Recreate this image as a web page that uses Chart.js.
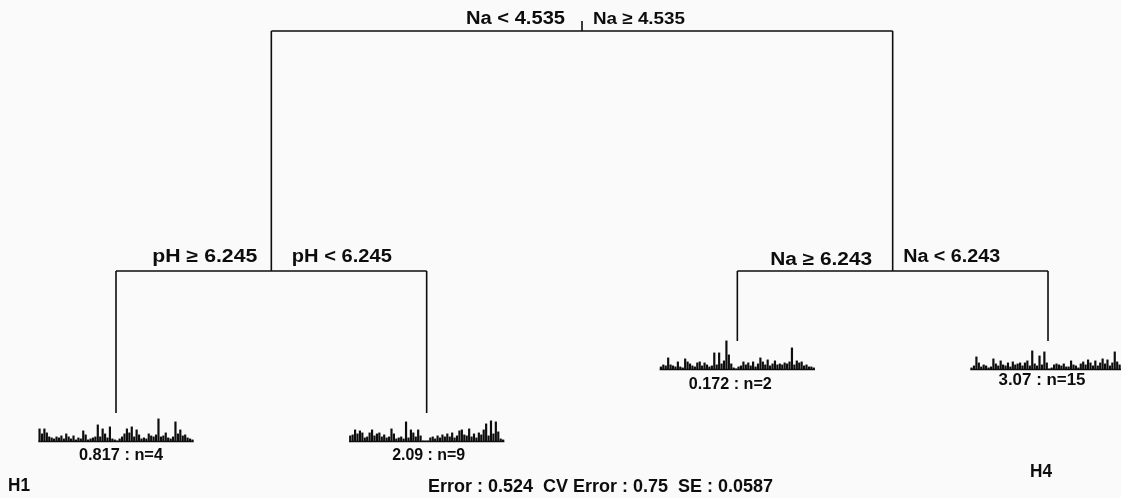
<!DOCTYPE html>
<html>
<head>
<meta charset="utf-8">
<script src="https://cdn.jsdelivr.net/npm/chart.js@4.4.1/dist/chart.umd.min.js"></script>
<style>
  html, body { margin: 0; padding: 0; background: #fafafa; }
  #wrap { position: relative; width: 1121px; height: 498px; }
</style>
</head>
<body>
<div id="wrap"><canvas id="tree" width="1121" height="498"></canvas></div>
<script>
// Splits: root, left child, right child
const splitVars = ['Na', 'pH', 'Na'];
const splitValues = [4.535, 6.245, 6.243];
const leftOps = ['<', '\u2265', '\u2265'];
const rightOps = ['\u2265', '<', '<'];
const splitPos = [2.5, 1.5, 3.5];
const splitHeight = [1.0, 0.4533, 0.4533];

// Leaves
const leafPos = [1, 2, 3, 4];
const leafHeight = [0.1298, 0.1298, 0.2938, 0.2938];
const leafParent = [1, 1, 2, 2];
const leafMeans = [0.817, 2.09, 0.172, 3.07];
const leafN = [4, 9, 2, 15];
const leafTags = ['H1', '', '', 'H4'];

// Error : CV Error : SE
const errorStats = [0.524, 0.75, 0.0587];

// Leaf bar plots (species abundances)
const leafBars1 = [13, 8, 13, 9, 5, 4, 3, 5, 4, 6, 3, 8, 5, 3, 6, 2, 4, 3, 11, 7, 2, 3, 4, 5, 17, 5, 13, 8, 4, 15, 3, 2,
                   1, 3, 5, 8, 13, 9, 15, 5, 12, 7, 3, 4, 3, 8, 6, 5, 7, 23, 5, 6, 9, 4, 3, 5, 20, 8, 12, 6, 7, 4, 3, 2];
const leafBars2 = [6, 7, 12, 8, 11, 9, 4, 5, 9, 12, 6, 8, 9, 5, 7, 4, 5, 13, 8, 3, 4, 5, 3, 20, 4, 12, 9, 5, 12, 6, 1, 1,
                   1, 4, 5, 3, 6, 4, 7, 5, 8, 5, 9, 4, 6, 11, 12, 7, 6, 13, 5, 8, 4, 9, 7, 12, 18, 6, 21, 8, 20, 10, 3, 2];
const leafBars3 = [3, 5, 4, 12, 5, 4, 3, 8, 3, 2, 11, 8, 6, 4, 3, 7, 8, 4, 7, 5, 3, 4, 17, 5, 17, 6, 9, 29, 15, 6, 2, 1,
                   3, 4, 8, 5, 7, 4, 8, 3, 6, 12, 8, 5, 10, 4, 6, 9, 5, 6, 5, 7, 6, 8, 22, 5, 9, 7, 8, 4, 5, 3, 3, 2];
const leafBars4 = [2, 4, 13, 7, 3, 5, 4, 2, 3, 11, 6, 4, 9, 5, 4, 7, 3, 8, 5, 6, 7, 4, 7, 9, 4, 19, 6, 4, 14, 5, 18, 7,
                   1, 2, 5, 6, 5, 4, 6, 3, 3, 9, 5, 4, 2, 6, 8, 5, 10, 7, 4, 9, 4, 7, 11, 6, 10, 4, 7, 18, 8, 5, 3, 2];
const leafBars = [leafBars1, leafBars2, leafBars3, leafBars4];

// ---- layout / style ----
const unitPx = 439;            // pixels per height unit
const stubTop = 1.0228;        // little tick above the root
const plotDrop = 0.065;        // gap between leaf node and its bar plot baseline
const plotWidth = 0.5;         // bar plot width in leaf units
const ink = '#0d0d0d';
const fontFam = '"Liberation Sans", Arial, sans-serif';

function seg(x1, y1, x2, y2) {
    return {
        type: 'line',
        data: [{ x: x1, y: y1 }, { x: x2, y: y2 }],
        showLine: true,
        borderColor: ink,
        borderWidth: 1.6,
        pointRadius: 0,
        fill: false
    };
}

const datasets = [];
// root
datasets.push(seg(splitPos[0], splitHeight[0], splitPos[0], stubTop));
datasets.push(seg(splitPos[1], splitHeight[0], splitPos[2], splitHeight[0]));
for (let i = 1; i < splitPos.length; i++) {
    datasets.push(seg(splitPos[i], splitHeight[0], splitPos[i], splitHeight[i]));
}
// leaves
leafPos.forEach((x, k) => {
    const p = leafParent[k];
    datasets.push(seg(x, splitHeight[p], x, leafHeight[k]));
});
// horizontal bars joining siblings
[1, 2].forEach(p => {
    const kids = leafPos.filter((_, k) => leafParent[k] === p);
    datasets.push(seg(kids[0], splitHeight[p], kids[kids.length - 1], splitHeight[p]));
});
// leaf bar plots
const barData = [];
leafBars.forEach((vals, k) => {
    const base = leafHeight[k] - plotDrop;
    const step = plotWidth / vals.length;
    vals.forEach((v, i) => {
        const x = leafPos[k] - plotWidth / 2 + (i + 0.5) * step;
        barData.push({ x: x, y: [base, base + v / unitPx] });
    });
    const bl = seg(leafPos[k] - plotWidth / 2, base, leafPos[k] + plotWidth / 2, base);
    bl.borderWidth = 1.6;
    datasets.push(bl);
});
datasets.push({
    type: 'bar',
    data: barData,
    backgroundColor: ink,
    borderWidth: 0,
    grouped: false,
    barPercentage: 0.9,
    categoryPercentage: 1
});

// label placement (px offsets from the node)
const splitLabelStyle = [
    { l: [-17, -12, 99, 18], r: [11, -12, 92, 17] },
    { l: [-14, -13.5, 105, 18], r: [20.5, -14, 100, 18] },
    { l: [-20.5, -11, 102, 18], r: [10.5, -14, 97, 18] }
];
const leafLabelStyle = [[5, 13.5, 84], [2, 13.5, 73], [-7, 15, 83], [-6, 11, 87]];
const tagStyle = [[8, 486, 22], null, null, [1030, 472, 22]];

function drawText(ctx, text, x, y, align, width, size) {
    ctx.save();
    ctx.font = 'bold ' + size + 'px ' + fontFam;
    ctx.textBaseline = 'middle';
    ctx.textAlign = 'left';
    const w = ctx.measureText(text).width;
    const sx = width ? width / w : 1;
    let left = x;
    if (align === 'right') left = x - w * sx;
    if (align === 'center') left = x - w * sx / 2;
    ctx.translate(left, y);
    ctx.scale(sx, 1);
    ctx.fillStyle = ink;
    ctx.fillText(text, 0, 0);
    ctx.restore();
}

const treeText = {
    id: 'treeText',
    afterDatasetsDraw(chart) {
        const { ctx, scales: { x: xs, y: ys } } = chart;
        splitVars.forEach((v, i) => {
            const px = xs.getPixelForValue(splitPos[i]);
            const py = ys.getPixelForValue(splitHeight[i]);
            const st = splitLabelStyle[i];
            drawText(ctx, v + ' ' + leftOps[i] + ' ' + splitValues[i], px + st.l[0], py + st.l[1], 'right', st.l[2], st.l[3]);
            drawText(ctx, v + ' ' + rightOps[i] + ' ' + splitValues[i], px + st.r[0], py + st.r[1], 'left', st.r[2], st.r[3]);
        });
        leafPos.forEach((x, k) => {
            const px = xs.getPixelForValue(x);
            const py = ys.getPixelForValue(leafHeight[k] - plotDrop);
            const st = leafLabelStyle[k];
            drawText(ctx, leafMeans[k] + ' : n=' + leafN[k], px + st[0], py + st[1], 'center', st[2], 17);
            if (leafTags[k]) {
                const t = tagStyle[k];
                drawText(ctx, leafTags[k], t[0], t[1], 'left', t[2], 18);
            }
        });
        drawText(ctx, 'Error : ' + errorStats[0] + '  CV Error : ' + errorStats[1] + '  SE : ' + errorStats[2],
            428, 487, 'left', 345, 18);
    }
};

new Chart(document.getElementById('tree').getContext('2d'), {
    type: 'scatter',
    data: { datasets: datasets },
    options: {
        responsive: false,
        animation: false,
        events: [],
        layout: { padding: 0 },
        plugins: { legend: { display: false }, tooltip: { enabled: false } },
        scales: {
            x: { type: 'linear', display: false, offset: false, grid: { offset: false },
                 min: 1 - 116 / 310.67, max: 1 + 1005 / 310.67 },
            y: { type: 'linear', display: false, offset: false, min: -28 / unitPx, max: 470 / unitPx }
        }
    },
    plugins: [treeText]
});
</script>
</body>
</html>
